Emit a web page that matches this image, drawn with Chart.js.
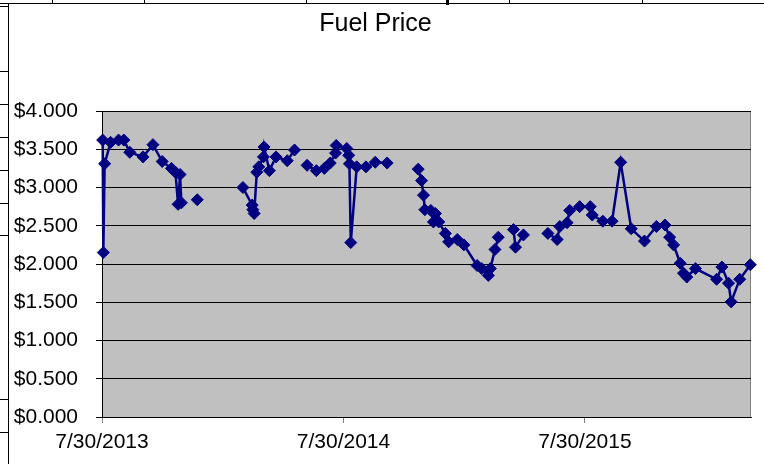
<!DOCTYPE html>
<html>
<head>
<meta charset="utf-8">
<title>Fuel Price</title>
<script src="https://cdn.jsdelivr.net/npm/chart.js@4.4.0/dist/chart.umd.min.js"></script>
<style>
    html, body { margin: 0; padding: 0; background: #fff; }
    canvas { display: block; }
</style>
</head>
<body>
<canvas id="grafico-precio" width="764" height="464"></canvas>
<script>
// Fechas de cada lectura (null en precios = hueco en la línea)
const fechas = [
    '2013-07-31', '2013-08-01', '2013-08-03', '2013-08-12', '2013-08-24', '2013-09-01',
    '2013-09-10', '2013-09-30', '2013-10-15', '2013-10-29', '2013-11-12', '2013-11-18',
    '2013-11-22', '2013-11-25', '2013-11-27', '2013-12-10', '2013-12-21', '2014-01-25',
    '2014-02-28', '2014-03-14', '2014-03-15', '2014-03-17', '2014-03-21', '2014-03-24',
    '2014-03-31', '2014-04-01', '2014-04-09', '2014-04-19', '2014-05-06', '2014-05-17',
    '2014-05-22', '2014-06-05', '2014-06-19', '2014-07-01', '2014-07-10', '2014-07-18',
    '2014-07-19', '2014-08-04', '2014-08-07', '2014-08-08', '2014-08-10', '2014-08-19',
    '2014-09-02', '2014-09-16', '2014-10-04', '2014-10-13', '2014-11-20', '2014-11-25',
    '2014-11-28', '2014-11-30', '2014-12-09', '2014-12-13', '2014-12-16', '2014-12-21',
    '2014-12-31', '2015-01-05', '2015-01-18', '2015-01-28', '2015-02-17', '2015-02-24',
    '2015-03-06', '2015-03-09', '2015-03-16', '2015-03-21', '2015-03-27', '2015-04-13',
    '2015-04-16', '2015-04-28', '2015-05-06', '2015-06-04', '2015-06-18', '2015-06-22',
    '2015-07-03', '2015-07-07', '2015-07-22', '2015-08-07', '2015-08-10', '2015-08-26',
    '2015-09-09', '2015-09-22', '2015-10-08', '2015-10-28', '2015-11-15', '2015-11-28',
    '2015-12-05', '2015-12-11', '2015-12-21', '2015-12-26', '2015-12-31', '2016-01-13',
    '2016-02-14', '2016-02-22', '2016-03-03', '2016-03-07', '2016-03-20', '2016-04-05'
];

const precios = [
    3.62, 2.15, 3.31, 3.59, 3.62, 3.62,
    3.46, 3.40, 3.56, 3.34, 3.25, 3.20,
    2.78, 3.17, 2.80, null, 2.84, null,
    3.00, 2.77, 2.71, 2.66, 3.20, 3.27,
    3.40, 3.53, 3.22, 3.40, 3.35, 3.49,
    null, 3.29, 3.22, 3.25, 3.32, 3.45,
    3.55, 3.51, 3.42, 3.31, 2.28, 3.27,
    3.27, 3.33, 3.32, null, 3.24, 3.09,
    2.90, 2.71, 2.70, 2.55, 2.66, 2.55,
    2.40, 2.29, 2.32, 2.25, 1.98, 1.94,
    1.85, 1.94, 2.19, 2.35, null, 2.45,
    2.22, 2.38, null, 2.40, 2.32, 2.49,
    2.54, 2.70, 2.75, 2.75, 2.64, 2.56,
    2.56, 3.33, 2.46, 2.30, 2.49, 2.51,
    2.35, 2.25, 2.01, 1.88, 1.83, 1.94,
    1.80, 1.96, 1.75, 1.505, 1.80, 1.99
];

// Marcas del eje X y límites
const fechasTicks = ['2013-07-30', '2014-07-30', '2015-07-30'];
const etiquetasTicks = ['7/30/2013', '7/30/2014', '7/30/2015'];
const fechaInicio = '2013-07-30';
const fechaFin = '2016-04-06';

const DIA = 86400000;
function diasDesde(fecha) {
    return (Date.parse(fecha) - Date.parse(fechaInicio)) / DIA;
}

// Fondo blanco, restos de la hoja de cálculo y área gris
const fondoHoja = {
    id: 'fondoHoja',
    beforeDraw(chart) {
        const ctx = chart.ctx;
        const a = chart.chartArea;
        ctx.save();
        ctx.fillStyle = '#fff';
        ctx.fillRect(0, 0, chart.width, chart.height);

        ctx.strokeStyle = '#000';
        ctx.lineWidth = 1;
        ctx.beginPath();
        ctx.moveTo(0, 3.5); ctx.lineTo(chart.width, 3.5);
        ctx.moveTo(8.5, 3); ctx.lineTo(8.5, chart.height);
        [52, 144, 306, 509, 642].forEach(function (x) {
            ctx.moveTo(x + 0.5, 0); ctx.lineTo(x + 0.5, 3);
        });
        [6, 71, 104, 137, 170, 203, 235, 399, 432].forEach(function (y) {
            ctx.moveTo(0, y + 0.5); ctx.lineTo(8, y + 0.5);
        });
        ctx.stroke();
        ctx.fillStyle = '#000';
        ctx.fillRect(446, 0, 3, 5);

        ctx.fillStyle = '#c0c0c0';
        ctx.fillRect(a.left, a.top, a.right - a.left, a.bottom - a.top);
        ctx.strokeStyle = '#808080';
        ctx.beginPath();
        ctx.moveTo(Math.round(a.right) - 0.5, a.top);
        ctx.lineTo(Math.round(a.right) - 0.5, a.bottom);
        ctx.stroke();
        ctx.restore();
    }
};

window.onload = initGrafico;

function initGrafico() {
    const puntos = fechas.map(function (f, i) {
        return { x: diasDesde(f), y: precios[i] };
    });

    const fuente = { family: "'Liberation Sans', Arial, sans-serif", size: 21 };

    new Chart(document.getElementById('grafico-precio'), {
        type: 'line',
        data: {
            datasets: [{
                data: puntos,
                borderColor: '#000080',
                backgroundColor: '#000080',
                borderWidth: 2.5,
                pointStyle: 'rectRot',
                pointRadius: 6,
                pointBorderWidth: 1,
                pointBackgroundColor: '#000080',
                pointBorderColor: '#000080',
                tension: 0,
                spanGaps: false,
                clip: false
            }]
        },
        options: {
            responsive: false,
            animation: false,
            layout: { padding: { left: 0, right: 13, top: 0, bottom: 0 } },
            plugins: {
                legend: { display: false },
                tooltip: { enabled: false },
                title: {
                    display: true,
                    text: 'Fuel Price',
                    color: '#000',
                    font: { family: fuente.family, size: 25, weight: 'normal', lineHeight: 1.2 },
                    padding: { top: 9, bottom: 72 }
                }
            },
            scales: {
                x: {
                    type: 'linear',
                    min: 0,
                    max: diasDesde(fechaFin),
                    afterBuildTicks: function (escala) {
                        escala.ticks = fechasTicks.map(function (f) { return { value: diasDesde(f) }; });
                    },
                    afterFit: function (escala) { escala.height = 47; },
                    ticks: {
                        color: '#000',
                        font: fuente,
                        padding: 7,
                        maxRotation: 0,
                        autoSkip: false,
                        callback: function (valor) {
                            const i = fechasTicks.findIndex(function (f) { return diasDesde(f) === valor; });
                            return i >= 0 ? etiquetasTicks[i] : '';
                        }
                    },
                    grid: { drawOnChartArea: false, color: '#808080', tickLength: 6 },
                    border: { display: true, color: '#000', width: 1 }
                },
                y: {
                    min: 0,
                    max: 4,
                    afterFit: function (escala) { escala.width = 102; },
                    ticks: {
                        stepSize: 0.5,
                        color: '#000',
                        font: fuente,
                        padding: 18,
                        callback: function (valor) { return '$' + valor.toFixed(3); }
                    },
                    grid: { color: '#000', tickLength: 6 },
                    border: { display: true, color: '#000', width: 1 }
                }
            }
        },
        plugins: [fondoHoja]
    });
}
</script>
</body>
</html>
